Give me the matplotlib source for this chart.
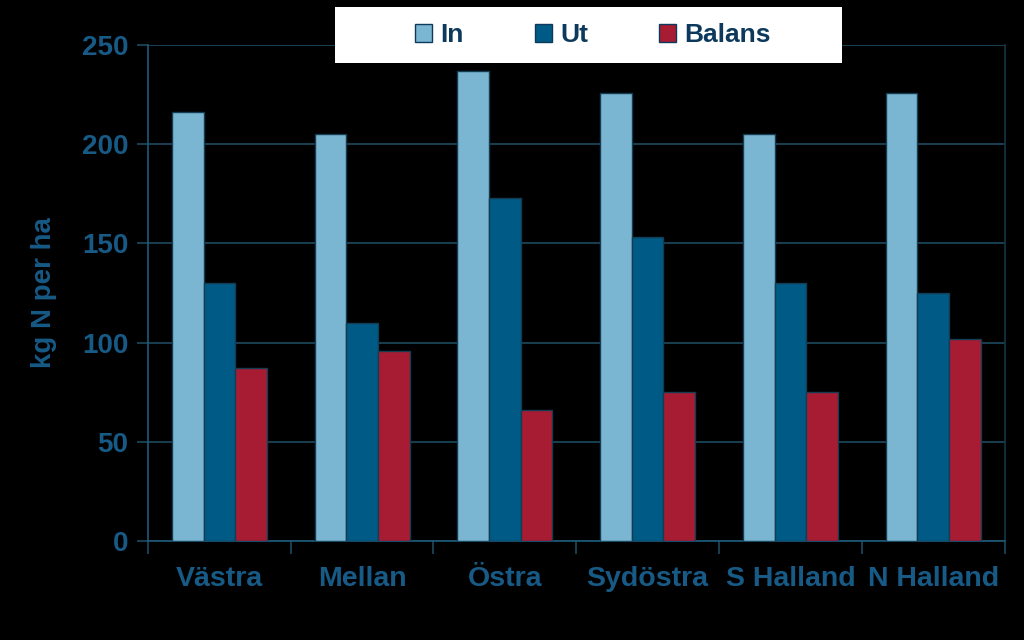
import numpy as np
import matplotlib.pyplot as plt
from matplotlib.patches import Rectangle

# ------------------------ Data ------------------------
regions = ["Västra", "Mellan", "Östra", "Sydöstra", "S Halland", "N Halland"]
n_in = [216, 205, 237, 226, 205, 226]
n_ut = [130, 110, 173, 153, 130, 125]
balans = [87, 96, 66, 75, 75, 102]

series_names = ["In", "Ut", "Balans"]
colors = ["#7ab6d1", "#005a86", "#a81c33"]

text_col = "#175a86"
grid_col = "#1c4a60"

plt.rcParams['font.family'] = ['Liberation Sans', 'DejaVu Sans']

fig = plt.figure(figsize=(10.24, 6.4), dpi=100, facecolor="black")
ax = fig.add_axes([0.1445, 0.1547, 0.8365, 0.775])
ax.set_facecolor("black")

x = np.arange(len(regions))
w = 0.222
for i, (vals, name) in enumerate(zip([n_in, n_ut, balans], series_names)):
    ax.bar(x + (i - 1) * w, vals, width=w, color=colors[i], label=name,
           edgecolor="#143c52", linewidth=1, zorder=3)

ax.set_xlim(-0.5, len(regions) - 0.5)
ax.set_ylim(0, 250)
ax.set_yticks([0, 50, 100, 150, 200, 250])
ax.yaxis.grid(True, color=grid_col, linewidth=1.2, zorder=0)

# ticks between categories on x axis
ax.set_xticks(np.arange(len(regions) + 1) - 0.5, minor=False)
ax.set_xticklabels([])
ax.set_xticks(x, minor=True)
ax.set_xticklabels(regions, minor=True)
ax.tick_params(axis="x", which="major", length=9, color=grid_col, width=1.2)
ax.tick_params(axis="x", which="minor", length=0, pad=18,
               labelsize=20.5, labelcolor=text_col)
for lbl in ax.get_xticklabels(minor=True):
    lbl.set_fontweight("bold")
ax.tick_params(axis="y", length=8, color=grid_col, width=1.2, pad=6,
               labelsize=20, labelcolor=text_col)
for lbl in ax.get_yticklabels():
    lbl.set_fontweight("bold")

ax.spines["left"].set_color("#1d5a7a")
ax.spines["bottom"].set_color("#1d5a7a")
ax.spines["right"].set_color("#143446")
ax.spines["top"].set_visible(False)
for s in ax.spines.values():
    s.set_linewidth(1.2)

ax.set_ylabel("kg N per ha", color=text_col, fontsize=20, fontweight="bold",
              labelpad=18)

# white legend box
fig.patches.append(Rectangle((335 / 1024, 1 - 63 / 640), 507 / 1024, 56 / 640,
                             transform=fig.transFigure, facecolor="white",
                             edgecolor="none", zorder=5))
leg = fig.legend(loc="center", bbox_to_anchor=(593 / 1024, 1 - 35 / 640),
                 ncol=3, frameon=False, fontsize=19,
                 handlelength=0.65, handleheight=0.65, handletextpad=0.3,
                 columnspacing=2.7, borderaxespad=0)
leg.set_zorder(6)
for t in leg.get_texts():
    t.set_color("#0d3a5c")
    t.set_fontweight("bold")
for h in leg.legend_handles:
    h.set_edgecolor("#0d3a5c")

fig.savefig("out.png", dpi=100, facecolor="black")
